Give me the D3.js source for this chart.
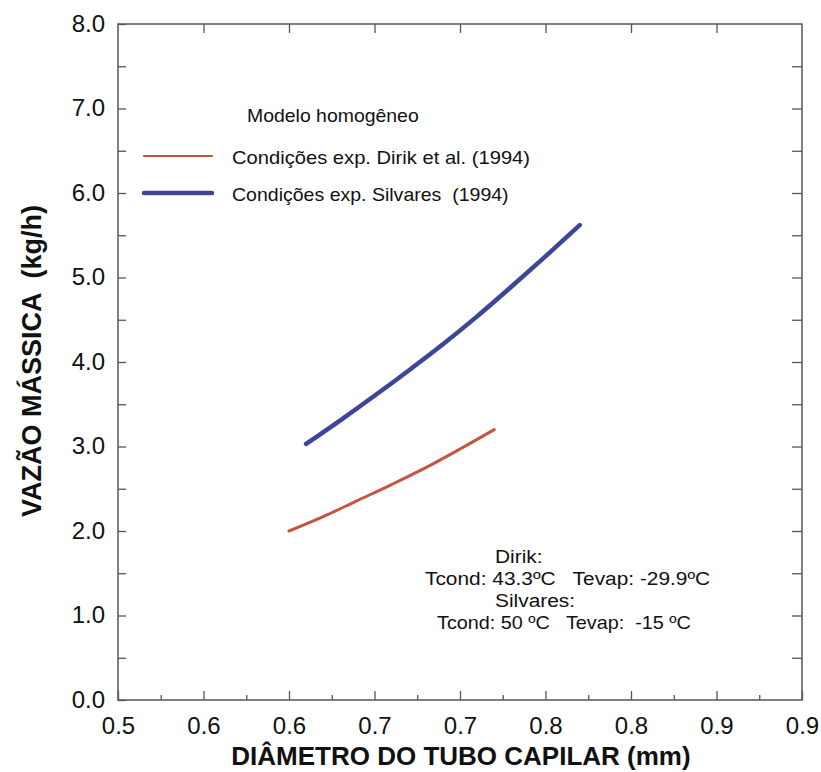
<!DOCTYPE html>
<html><head><meta charset="utf-8">
<script src="https://cdn.jsdelivr.net/npm/d3@7/dist/d3.min.js"></script>
<style>body{margin:0;background:#fff;} text{font-family:"Liberation Sans",Arial,sans-serif;white-space:pre;}</style>
</head><body><svg id="c" width="821" height="772"></svg>
<script>
const xTicks = [0.5,0.55,0.6,0.65,0.7,0.75,0.8,0.85,0.9];
const xTickLabels = ["0.5","0.6","0.6","0.7","0.7","0.8","0.8","0.9","0.9"];
const yTicks = [0,1,2,3,4,5,6,7,8];
const yTickLabels = ["0.0","1.0","2.0","3.0","4.0","5.0","6.0","7.0","8.0"];
const dirikX = [0.60,0.62,0.64,0.66,0.68,0.70,0.72];
const dirikY = [2.00,2.17,2.36,2.55,2.75,2.97,3.20];
const silvX = [0.61,0.63,0.65,0.67,0.69,0.71,0.73,0.75,0.77];
const silvY = [3.03,3.31,3.60,3.90,4.21,4.54,4.89,5.25,5.62];
const seriesNames = ["Condições exp. Dirik et al. (1994)","Condições exp. Silvares  (1994)"];
const colors = ["#c4553f","#3d4697"];

const svg = d3.select("#c");
const L=118,R=802,T=24,B=700;
const x = d3.scaleLinear().domain([0.5,0.9]).range([L,R]);
const y = d3.scaleLinear().domain([0,8]).range([B,T]);
const axisColor="#555";

svg.append("rect").attr("x",L).attr("y",T).attr("width",R-L).attr("height",B-T)
  .attr("fill","none").attr("stroke",axisColor).attr("stroke-width",1.5);

const styleTicks = g=>{g.select(".domain").remove();g.selectAll("line").attr("stroke",axisColor).attr("stroke-width",1.3);};

const gB = svg.append("g").attr("transform",`translate(0,${B})`)
  .call(d3.axisBottom(x).tickValues(xTicks).tickSizeInner(-9).tickSizeOuter(0).tickFormat((d,i)=>xTickLabels[i]))
  .call(styleTicks);
gB.selectAll("text").attr("dy",0).attr("y",34).attr("font-size",24).attr("fill","#111");
svg.append("g").attr("transform",`translate(0,${B})`)
  .call(d3.axisBottom(x).tickValues(d3.range(8).map(i=>xTicks[i]+0.025)).tickSizeInner(-5).tickSizeOuter(0).tickFormat(""))
  .call(styleTicks);
svg.append("g").attr("transform",`translate(0,${T})`)
  .call(d3.axisTop(x).tickValues(xTicks.slice(1,-1)).tickSizeInner(-9).tickSizeOuter(0).tickFormat(""))
  .call(styleTicks);

const yHalf = d3.range(0,8.01,0.5);
const gL = svg.append("g").attr("transform",`translate(${L},0)`)
  .call(d3.axisLeft(y).tickValues(yTicks).tickSizeInner(-8).tickSizeOuter(0).tickPadding(13).tickFormat((d,i)=>yTickLabels[i]))
  .call(styleTicks);
gL.selectAll("text").attr("font-size",24).attr("fill","#111").attr("dy","0.3em");
svg.append("g").attr("transform",`translate(${L},0)`)
  .call(d3.axisLeft(y).tickValues(yHalf.filter(v=>v%1!==0)).tickSizeInner(-8).tickSizeOuter(0).tickFormat(""))
  .call(styleTicks);
svg.append("g").attr("transform",`translate(${R},0)`)
  .call(d3.axisRight(y).tickValues(yHalf.filter(v=>v>0&&v<8)).tickSizeInner(-10).tickSizeOuter(0).tickFormat(""))
  .call(styleTicks);

const line = d3.line().x(d=>x(d[0])).y(d=>y(d[1])).curve(d3.curveMonotoneX);
svg.append("path").datum(dirikX.map((v,i)=>[v,dirikY[i]])).attr("d",line)
  .attr("fill","none").attr("stroke",colors[0]).attr("stroke-width",3).attr("stroke-linecap","round");
svg.append("path").datum(silvX.map((v,i)=>[v,silvY[i]])).attr("d",line)
  .attr("fill","none").attr("stroke",colors[1]).attr("stroke-width",4.5).attr("stroke-linecap","round");

function label(t,px,py,size,sx){
  svg.append("text").attr("transform",`translate(${px},${py}) scale(${sx},1)`)
    .attr("font-size",size).attr("fill","#111").text(t);
}
label("Modelo homogêneo",247,122,18,1.08);
const legY=[156,193], legW=[2.2,4.5], legS=[1.12,1.085];
seriesNames.forEach((n,i)=>{
  svg.append("line").attr("x1",144).attr("x2",212).attr("y1",legY[i]).attr("y2",legY[i])
    .attr("stroke",colors[i]).attr("stroke-width",legW[i]).attr("stroke-linecap","round");
  label(n,232,legY[i]+8,18,legS[i]);
});

label("Dirik:",495,563,18,1.16);
label("Tcond: 43.3ºC   Tevap: -29.9ºC",425,585,18,1.16);
label("Silvares:",495,607,18,1.16);
label("Tcond: 50 ºC   Tevap:  -15 ºC",437,629,18,1.1);

svg.append("text").attr("x",461).attr("y",765).attr("text-anchor","middle")
  .attr("font-size",26).attr("font-weight","bold").attr("fill","#111")
  .text("DIÂMETRO DO TUBO CAPILAR (mm)");
svg.append("text").attr("transform","translate(41,361) rotate(-90)").attr("text-anchor","middle")
  .attr("font-size",27).attr("font-weight","bold").attr("fill","#111")
  .text("VAZÃO MÁSSICA  (kg/h)");
</script></body></html>
